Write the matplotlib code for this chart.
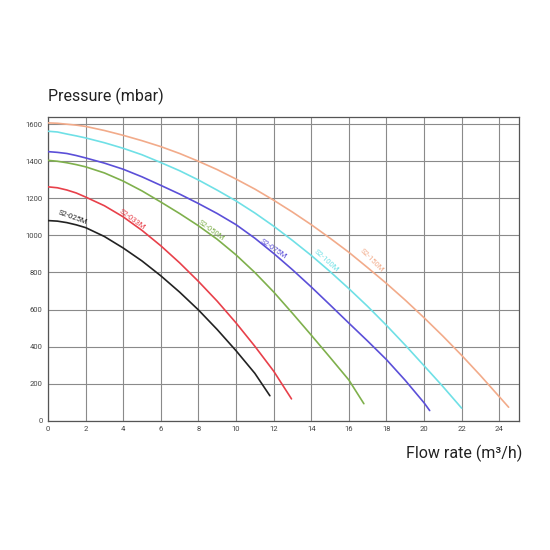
import matplotlib
matplotlib.use('Agg')
import matplotlib.pyplot as plt

plt.rcParams['font.family'] = ['Roboto', 'DejaVu Sans']

# curves (flow m3/h, pressure mbar)
q_025 = [0, 0.5, 1, 1.5, 2, 3, 4, 5, 6, 7, 8, 9, 10, 11, 11.8]
h_025 = [1080, 1077, 1069, 1057, 1042, 994, 932, 862, 782, 694, 598, 492, 378, 256, 135]

q_033 = [0, 0.5, 1, 1.5, 2, 3, 4, 5, 6, 7, 8, 9, 10, 11, 12, 12.95]
h_033 = [1262, 1257, 1245, 1229, 1207, 1160, 1100, 1027, 944, 852, 752, 645, 528, 402, 268, 118]

q_050 = [0, 0.5, 1, 1.5, 2, 3, 4, 5, 6, 7, 8, 9, 10, 11, 12, 13, 14, 15, 16, 16.8]
h_050 = [1405, 1400, 1392, 1382, 1370, 1337, 1293, 1240, 1180, 1118, 1052, 979, 895, 800, 695,
         580, 462, 342, 220, 92]

q_075 = [0, 0.5, 1, 1.5, 2, 3, 4, 5, 6, 7, 8, 9, 10, 11, 12, 13, 14, 15, 16, 17, 18, 19, 20, 20.3]
h_075 = [1452, 1448, 1442, 1431, 1418, 1390, 1357, 1316, 1270, 1223, 1172, 1118, 1058, 985, 903,
         815, 722, 625, 527, 430, 330, 218, 97, 55]

q_100 = [0, 0.5, 1, 1.5, 2, 3, 4, 5, 6, 7, 8, 9, 10, 11, 12, 13, 14, 15, 16, 17, 18, 19, 20, 21, 22]
h_100 = [1562, 1558, 1547, 1537, 1526, 1500, 1470, 1435, 1393, 1349, 1299, 1244, 1186, 1121, 1050,
         973, 892, 805, 713, 617, 515, 408, 297, 185, 68]

q_150 = [0, 0.5, 1, 1.5, 2, 3, 4, 5, 6, 7, 8, 9, 10, 11, 12, 13, 14, 15, 16, 17, 18, 19, 20,
         21, 22, 23, 24, 24.5]
h_150 = [1607, 1605, 1600, 1595, 1588, 1566, 1540, 1511, 1479, 1442, 1400, 1355, 1304, 1250, 1190,
         1126, 1058, 985, 909, 826, 741, 651, 556, 457, 353, 244, 130, 73]

models = ['S2-025M', 'S2-033M', 'S2-050M', 'S2-075M', 'S2-100M', 'S2-150M']
colors = ['#222222', '#e8404a', '#7fb04c', '#5b4fd8', '#6fe0e6', '#f2ab8a']
# label spots (x, y, angle)
label_pos = [(1.3, 1095, -20), (4.5, 1085, -36), (8.7, 1025, -36),
             (12.0, 930, -34), (14.8, 865, -42), (17.2, 865, -45)]

x_ticks = list(range(0, 26, 2))
y_ticks = list(range(0, 1601, 200))

fig = plt.figure(figsize=(5.5, 5.5), dpi=100)
ax = fig.add_axes([0.0873, 0.235, 0.8563, 0.553])

series = [(q_025, h_025), (q_033, h_033), (q_050, h_050),
          (q_075, h_075), (q_100, h_100), (q_150, h_150)]
for (q, h), c, name, (lx, ly, ang) in zip(series, colors, models, label_pos):
    ax.plot(q, h, color=c, lw=1.2, solid_capstyle='round', solid_joinstyle='round', zorder=3)
    ax.text(lx, ly, name, color=c, fontsize=5.5, rotation=ang,
            ha='center', va='center', rotation_mode='anchor', zorder=4)

ax.set_xlim(0, 25.05)
ax.set_ylim(0, 1641)
ax.set_xticks(x_ticks)
ax.set_yticks(y_ticks)
ax.tick_params(length=0, labelsize=5.5, labelcolor='#444444', pad=4)
ax.grid(True, color='#8a8a8a', lw=0.8)
ax.set_axisbelow(True)
for sp in ax.spines.values():
    sp.set_color('#555555')
    sp.set_linewidth(0.9)

fig.text(0.0873, 0.8155, 'Pressure (mbar)', fontsize=11.5, color='#222222',
         ha='left', va='baseline')
fig.text(0.949, 0.1673, 'Flow rate (m³/h)', fontsize=11.5, color='#222222',
         ha='right', va='baseline')

fig.savefig('out.png', dpi=100)
